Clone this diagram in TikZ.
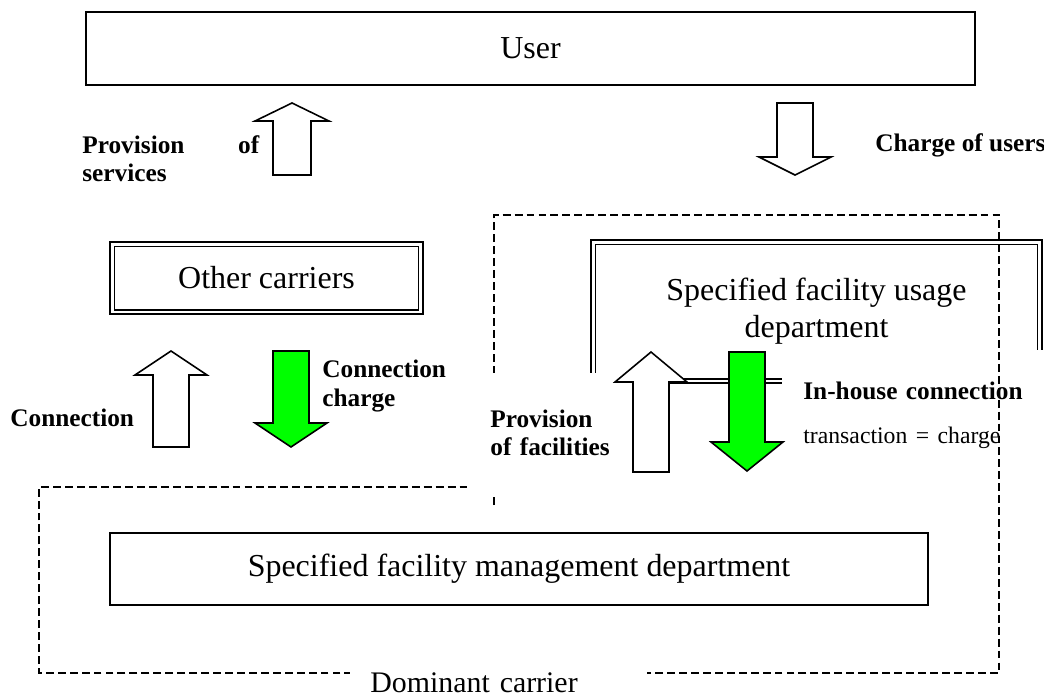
\documentclass[tikz,border=0pt]{standalone}
\usepackage{fontspec}
\setmainfont{Liberation Serif}
\definecolor{chargegreen}{RGB}{0,255,0}

\tikzset{
  dept/.style={draw, line width=1.1pt, align=center, inner sep=0pt,
    font=\fontsize{18.2}{21}\selectfont},
  carrier/.style={dept, double, double distance=1.7pt},
  lbl/.style={inner sep=0pt, font=\fontsize{14.4}{16}\selectfont\bfseries},
  mask/.style={fill=white, inner sep=0pt},
  blockarrow/.style={draw, line width=0.9pt, fill=white, line join=miter},
  chargearrow/.style={blockarrow, fill=chargegreen},
  carrierline/.style={line width=0.9pt, dash pattern=on 4.5pt off 2.3pt},
}

\begin{document}
\begin{tikzpicture}[x=0.02cm, y=-0.02cm]

	\useasboundingbox (0,0) rectangle (1044,697);

	% boxes
	\node[dept, minimum width=17.78cm, minimum height=1.46cm] (user) at (530.5,48.5) {User};
	\node[carrier, minimum width=6.18cm, minimum height=1.36cm] (other) at (266.5,278) {Other carriers};
	\node[carrier, minimum width=8.94cm, minimum height=2.78cm] (usage) at (816.5,311.5)
		{Specified facility usage\\department};

	% note over the usage box
	\node[mask, anchor=north west, inner xsep=0.42cm, text width=4.9cm, minimum height=2.6cm,
		align=left, font=\fontsize{14.4}{25}\selectfont] (inhouse) at (782,350)
		{\textbf{In-house connection}\\{\fontsize{13.5}{25}\selectfont transaction = charge}};

	% dominant carrier
	\draw[carrierline] (494,505) -- (494,215) -- (999,215) -- (999,673) -- (39,673) -- (39,487) -- (494,487);

	\node[mask, lbl, anchor=west, inner xsep=0.4cm, text width=2.6cm, minimum height=2.4cm,
		align=left] (facil) at (470,433) {Provision\\of facilities};
	\node[mask, anchor=west, inner xsep=0.4cm, text width=5.14cm, minimum height=0.5cm,
		align=left, font=\fontsize{17}{20}\selectfont] (dominant) at (350,683) {Dominant carrier};

	\node[dept, minimum width=16.36cm, minimum height=1.44cm] (mgmt) at (519,569)
		{Specified facility management department};

	% block arrows
	\draw[blockarrow] (292,103) -- ++(37,18) -- ++(-18,0) -- ++(0,54) -- ++(-38,0) -- ++(0,-54) -- ++(-18,0) -- cycle;
	\draw[blockarrow] (795,175) -- ++(36,-18) -- ++(-18,0) -- ++(0,-54) -- ++(-36,0) -- ++(0,54) -- ++(-18,0) -- cycle;
	\draw[blockarrow] (171,351) -- ++(36,24) -- ++(-18,0) -- ++(0,72) -- ++(-36,0) -- ++(0,-72) -- ++(-18,0) -- cycle;
	\draw[chargearrow] (291,447) -- ++(36,-24) -- ++(-18,0) -- ++(0,-72) -- ++(-36,0) -- ++(0,72) -- ++(-18,0) -- cycle;
	\draw[blockarrow] (651,352) -- ++(36,30) -- ++(-18,0) -- ++(0,90) -- ++(-36,0) -- ++(0,-90) -- ++(-18,0) -- cycle;
	\draw[chargearrow] (747,471) -- ++(36,-29) -- ++(-18,0) -- ++(0,-90) -- ++(-36,0) -- ++(0,90) -- ++(-18,0) -- cycle;

	% labels
	\node[lbl, anchor=west, text width=3.54cm, align=left] (services) at (82,159) {Provision\hfill of\\services};
	\node[lbl, anchor=west] (usercharge) at (875,145) {Charge of users};
	\node[lbl, anchor=west] (conn) at (10,418) {Connection};
	\node[lbl, anchor=west, align=left] (conncharge) at (322,386) {Connection\\charge};

\end{tikzpicture}
\end{document}
